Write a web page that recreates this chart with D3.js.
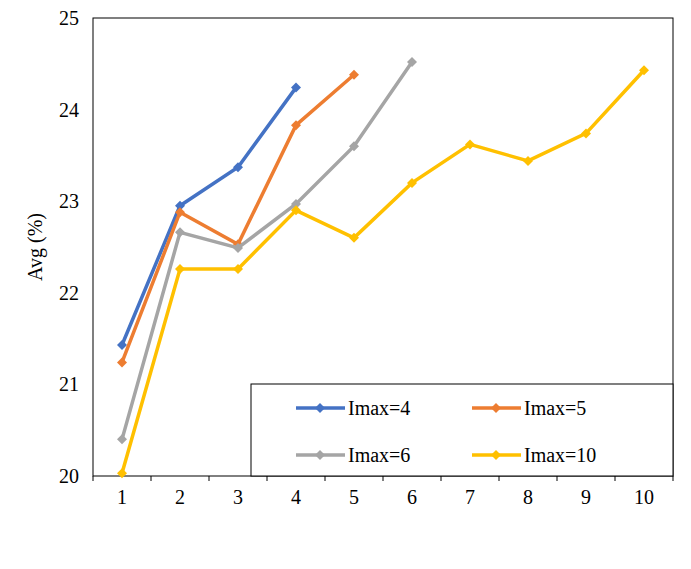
<!DOCTYPE html><html><head><script src="https://cdn.jsdelivr.net/npm/d3@7"></script>
<style>body{margin:0;background:#fff}</style></head><body><svg id="c" width="691" height="569"></svg>
<script>
const categories=[1,2,3,4,5,6,7,8,9,10];
const yTicks=[20,21,22,23,24,25];
const s4=[21.43,22.95,23.37,24.24];
const s5=[21.24,22.88,22.53,23.83,24.38];
const s6=[20.40,22.66,22.49,22.97,23.60,24.52];
const s10=[20.03,22.26,22.26,22.90,22.60,23.20,23.62,23.44,23.74,24.43];
const series=[{name:"Imax=4",v:s4,c:"#4472C4"},{name:"Imax=5",v:s5,c:"#ED7D31"},{name:"Imax=6",v:s6,c:"#A5A5A5"},{name:"Imax=10",v:s10,c:"#FFC000"}];
const svg=d3.select("#c"),L=93,R=673,T=18,B=476,F="Liberation Serif, Times New Roman, serif",FS=20;
const x=d3.scaleBand().domain(categories).range([L,R]);
const y=d3.scaleLinear().domain([20,25]).range([B,T]);
svg.append("rect").attr("x",L).attr("y",T).attr("width",R-L).attr("height",B-T).attr("fill","none").attr("stroke","#000");
const xa=svg.append("g").attr("transform",`translate(0,${B})`).call(d3.axisBottom(x).tickSize(0).tickPadding(14));
xa.select(".domain").remove();xa.selectAll("text").attr("font-family",F).attr("font-size",FS).attr("fill","#000");
svg.append("g").selectAll("line").data(d3.range(11)).join("line").attr("x1",d=>L+d*x.step()).attr("x2",d=>L+d*x.step()).attr("y1",B).attr("y2",B+5).attr("stroke","#000");
const ya=svg.append("g").attr("transform",`translate(${L},0)`).call(d3.axisLeft(y).tickValues(yTicks).tickFormat(d3.format("d")).tickSize(0).tickPadding(14));
ya.select(".domain").remove();ya.selectAll("text").attr("font-family",F).attr("font-size",FS).attr("fill","#000");
svg.append("text").attr("transform","translate(42,247) rotate(-90)").attr("text-anchor","middle").attr("font-family",F).attr("font-size",FS).text("Avg (%)");
const line=d3.line().x((d,i)=>x(categories[i])+x.bandwidth()/2).y(d=>y(d));
const dia=d3.symbol().type(d3.symbolSquare).size(50);
series.forEach(s=>{
 svg.append("path").datum(s.v).attr("d",line).attr("fill","none").attr("stroke",s.c).attr("stroke-width",3.5);
 svg.append("g").selectAll("path").data(s.v).join("path").attr("d",dia).attr("fill",s.c).attr("transform",(d,i)=>`translate(${x(categories[i])+x.bandwidth()/2},${y(d)}) rotate(45)`);
});
svg.append("rect").attr("x",251).attr("y",384).attr("width",422).attr("height",92).attr("fill","#fff").attr("stroke","#000");
const pos=[[296,408],[472,408],[296,455],[472,455]];
series.forEach((s,i)=>{const [px,py]=pos[i];
 svg.append("line").attr("x1",px).attr("x2",px+49).attr("y1",py).attr("y2",py).attr("stroke",s.c).attr("stroke-width",3.5);
 svg.append("path").attr("d",dia).attr("fill",s.c).attr("transform",`translate(${px+24},${py}) rotate(45)`);
 svg.append("text").attr("x",px+52).attr("y",py+7).attr("font-family",F).attr("font-size",FS).text(s.name);
});
</script></body></html>
